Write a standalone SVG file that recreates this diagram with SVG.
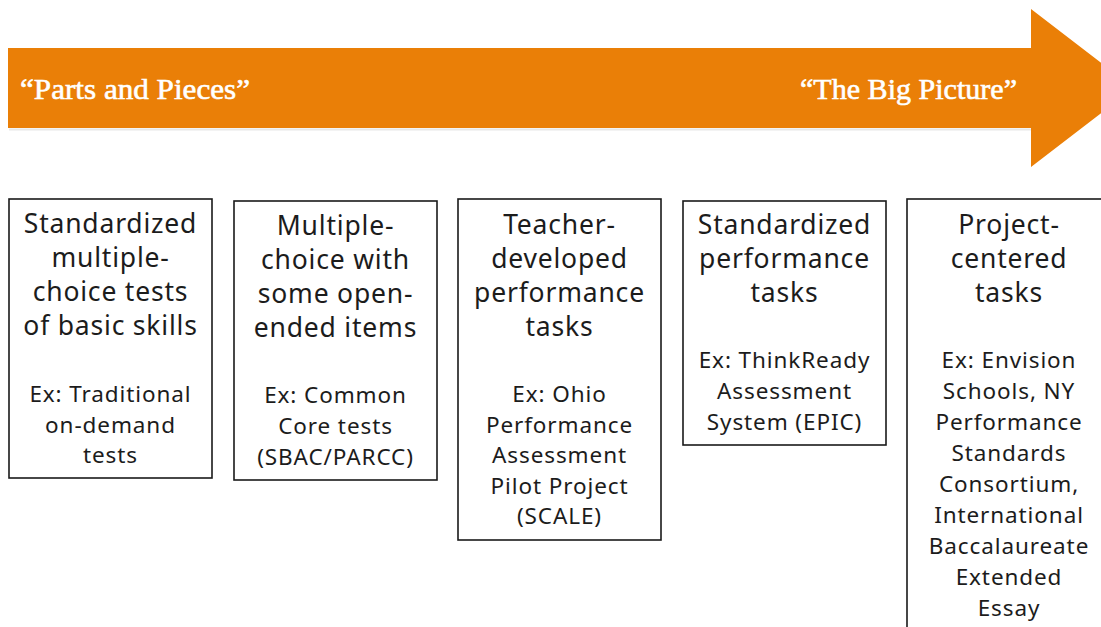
<svg xmlns="http://www.w3.org/2000/svg" width="1101" height="627" viewBox="0 0 1101 627">
<style>
.arrow{fill:#EA7F07}
.ttl{font-family:"Liberation Serif",serif;font-size:30px;fill:#ffffff;stroke:#ffffff;stroke-width:0.6}
.box{fill:#ffffff;stroke:#1a1a1a;stroke-width:1.6}
.hd{font-family:"Noto Sans",Lato,sans-serif;font-size:26.5px;letter-spacing:0.8px;fill:#1c1c1c;text-anchor:middle}
.ex{font-family:"Noto Sans",Lato,sans-serif;font-size:22.5px;letter-spacing:0.9px;fill:#1c1c1c;text-anchor:middle}
</style>
<rect width="1101" height="627" fill="#ffffff"/>
<g id="arrow">
<path d="M9,129.5 H1031" fill="none" stroke="#d8d8d8" stroke-width="2" opacity="0.6"/>
<path class="arrow" d="M8,48 H1031 V9 L1134,88 L1031,167 V128 H8 Z"/>
<text class="ttl" x="20" y="99" textLength="230" lengthAdjust="spacingAndGlyphs">“Parts and Pieces”</text>
<text class="ttl" x="800" y="99" textLength="217" lengthAdjust="spacingAndGlyphs">“The Big Picture”</text>
</g>
<g id="node1">
<rect class="box" x="9" y="199" width="203" height="279"/>
<text class="hd" x="110.5" y="233">Standardized</text>
<text class="hd" x="110.5" y="267">multiple-</text>
<text class="hd" x="110.5" y="301">choice tests</text>
<text class="hd" x="110.5" y="335">of basic skills</text>
<text class="ex" x="110.5" y="402">Ex: Traditional</text>
<text class="ex" x="110.5" y="433">on-demand</text>
<text class="ex" x="110.5" y="463">tests</text>
</g>
<g id="node2">
<rect class="box" x="234" y="201" width="203" height="279"/>
<text class="hd" x="335.5" y="235">Multiple-</text>
<text class="hd" x="335.5" y="269">choice with</text>
<text class="hd" x="335.5" y="303">some open-</text>
<text class="hd" x="335.5" y="337">ended items</text>
<text class="ex" x="335.5" y="403">Ex: Common</text>
<text class="ex" x="335.5" y="434">Core tests</text>
<text class="ex" x="335.5" y="465">(SBAC/PARCC)</text>
</g>
<g id="node3">
<rect class="box" x="458" y="199" width="203" height="341"/>
<text class="hd" x="559.5" y="234">Teacher-</text>
<text class="hd" x="559.5" y="268">developed</text>
<text class="hd" x="559.5" y="302">performance</text>
<text class="hd" x="559.5" y="336">tasks</text>
<text class="ex" x="559.5" y="402">Ex: Ohio</text>
<text class="ex" x="559.5" y="433">Performance</text>
<text class="ex" x="559.5" y="463">Assessment</text>
<text class="ex" x="559.5" y="494">Pilot Project</text>
<text class="ex" x="559.5" y="524">(SCALE)</text>
</g>
<g id="node4">
<rect class="box" x="683" y="201" width="203" height="244"/>
<text class="hd" x="784.5" y="234">Standardized</text>
<text class="hd" x="784.5" y="268">performance</text>
<text class="hd" x="784.5" y="302">tasks</text>
<text class="ex" x="784.5" y="368">Ex: ThinkReady</text>
<text class="ex" x="784.5" y="399">Assessment</text>
<text class="ex" x="784.5" y="430">System (EPIC)</text>
</g>
<g id="node5">
<rect class="box" x="907" y="199" width="204" height="440"/>
<text class="hd" x="1009" y="234">Project-</text>
<text class="hd" x="1009" y="268">centered</text>
<text class="hd" x="1009" y="302">tasks</text>
<text class="ex" x="1009" y="368">Ex: Envision</text>
<text class="ex" x="1009" y="399">Schools, NY</text>
<text class="ex" x="1009" y="430">Performance</text>
<text class="ex" x="1009" y="461">Standards</text>
<text class="ex" x="1009" y="492">Consortium,</text>
<text class="ex" x="1009" y="523">International</text>
<text class="ex" x="1009" y="554">Baccalaureate</text>
<text class="ex" x="1009" y="585">Extended</text>
<text class="ex" x="1009" y="616">Essay</text>
</g>
<g id="connectors"></g>
</svg>
